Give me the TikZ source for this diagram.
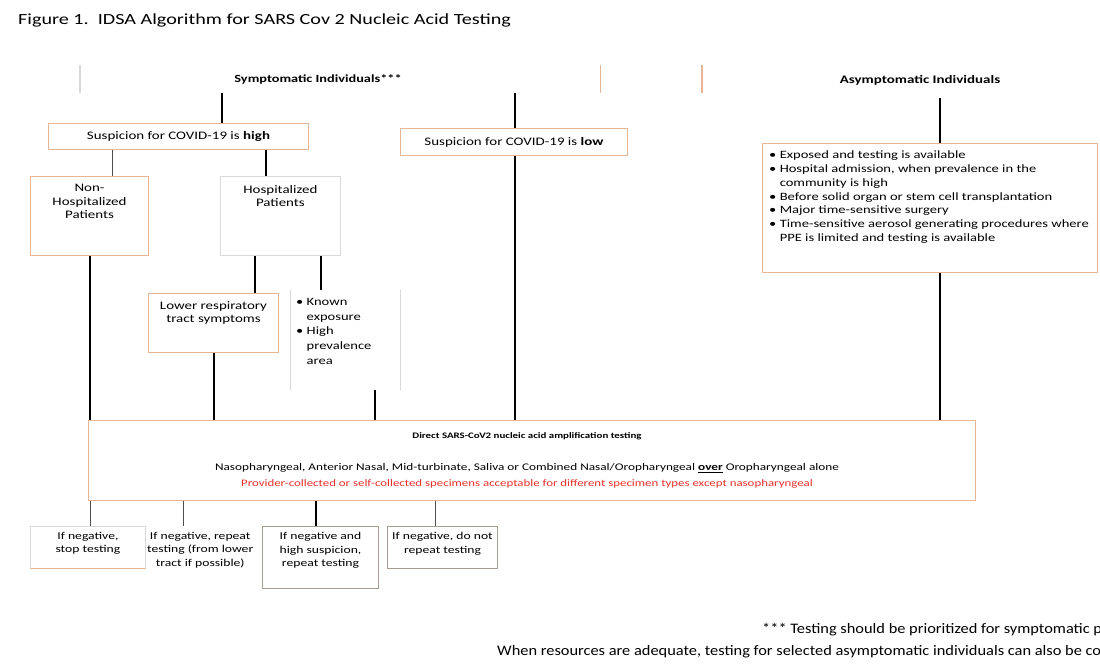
\documentclass[tikz,border=0pt]{standalone}
\usepackage{fontspec}
\setmainfont{Carlito}[FakeStretch=1.3]
\newfontfamily\footfont{Carlito}[FakeStretch=1.13]
\definecolor{boxc}{HTML}{E6B595}
\definecolor{faint}{HTML}{D9D9D9}
\definecolor{greyb}{HTML}{A89C90}
\definecolor{redt}{HTML}{E8302A}
\begin{document}
\begin{tikzpicture}[x=1pt,y=-1pt,
  box/.style={draw=boxc, line width=1pt, fill=white, inner sep=0pt, anchor=north west},
  fbox/.style={draw=faint, line width=0.8pt, fill=white, inner sep=0pt, anchor=north west},
  gbox/.style={draw=greyb, line width=1pt, fill=white, inner sep=0pt, anchor=north west},
  txt/.style={font=\fontsize{11.5}{13.5}\selectfont, align=center, inner sep=0pt, anchor=north},
  btxt/.style={font=\fontsize{10.5}{13.5}\selectfont, align=center, inner sep=0pt, anchor=north},
  ltxt/.style={font=\fontsize{11.2}{13.7}\selectfont, align=left, inner sep=0pt, anchor=north west},
  conn/.style={line width=1.8pt, black},
  thinconn/.style={line width=1pt, black!70}]
\useasboundingbox (0,0) rectangle (1100,667);
\fill[white] (0,0) rectangle (1100,667);
\begin{scope}
\clip (0,0) rectangle (1100,667);

% title
\node[anchor=west, inner sep=0pt, font=\fontsize{15.5}{18}\selectfont] (title) at (18,20)
  {Figure 1.\ \ IDSA Algorithm for SARS Cov 2 Nucleic Acid Testing};

% headers
\node[inner sep=0pt, minimum width=520pt, minimum height=28pt, anchor=north west] (sym) at (80,65) {};
\node[txt, anchor=center, font=\bfseries\fontsize{11}{13}\selectfont] (symt) at (318,79) {Symptomatic Individuals***};
\draw[faint, line width=1.2pt] (sym.north west) -- (sym.south west);
\draw[boxc, line width=1.2pt] (sym.north east) -- (sym.south east);
\node[inner sep=0pt, minimum width=398pt, minimum height=28pt, anchor=north west] (asym) at (702,65) {};
\node[txt, anchor=center, font=\bfseries\fontsize{11.5}{13}\selectfont] (asymt) at (920,80) {Asymptomatic Individuals};
\draw[boxc, line width=1.2pt] (asym.north west) -- (asym.south west);

% suspicion boxes
\node[box, minimum width=260pt, minimum height=26pt] (high) at (48,123) {};
\node[txt, anchor=center] (hight) at (high.center) {Suspicion for COVID-19 is \textbf{high}};
\node[box, minimum width=227pt, minimum height=27pt] (low) at (400,128) {};
\node[txt, anchor=center] (lowt) at (low.center) {Suspicion for COVID-19 is \textbf{low}};

% patients
\node[box, minimum width=118pt, minimum height=79pt] (nonhosp) at (30,176) {};
\node[txt] (nonhospt) at ([yshift=-8pt]nonhosp.north) {Non-\\Hospitalized\\Patients};
\node[fbox, minimum width=120pt, minimum height=79pt] (hosp) at (220,176) {};
\node[txt] (hospt) at ([yshift=-9pt]hosp.north) {Hospitalized\\Patients};

\node[box, minimum width=130pt, minimum height=59pt] (lowresp) at (148,293) {};
\node[txt] (lowrespt) at ([yshift=-8pt]lowresp.north) {Lower respiratory\\tract symptoms};

\node[inner sep=0pt, minimum width=110pt, minimum height=100pt, anchor=north west] (bul) at (290,290) {};
\draw[faint, line width=1pt] (bul.north west) -- (bul.south west);
\draw[faint, line width=1pt] (bul.north east) -- (bul.south east);
\node[ltxt, font=\fontsize{11.2}{14.7}\selectfont] (bult) at (296,298)
  {• Known\\\hphantom{• }exposure\\• High\\\hphantom{• }prevalence\\\hphantom{• }area};

% asymptomatic criteria
\node[box, minimum width=335pt, minimum height=129pt] (rbox) at (762,143) {};
\node[ltxt] (rboxt) at (769,151)
  {• Exposed and testing is available\\
   • Hospital admission, when prevalence in the\\
   \hphantom{• }community is high\\
   • Before solid organ or stem cell transplantation\\
   • Major time-sensitive surgery\\
   • Time-sensitive aerosol generating procedures where\\
   \hphantom{• }PPE is limited and testing is available};

% direct testing
\node[box, minimum width=887pt, minimum height=80pt] (direct) at (88,420) {};
\node[txt, anchor=center, font=\bfseries\fontsize{8.4}{11}\selectfont] (dir1) at (527,436)
  {Direct SARS-CoV2 nucleic acid amplification testing};
\node[txt, anchor=center, font=\fontsize{10.2}{12}\selectfont] (dir2) at (527,468)
  {Nasopharyngeal, Anterior Nasal, Mid-turbinate, Saliva or Combined Nasal/Oropharyngeal \textbf{\underline{over}} Oropharyngeal alone};
\node[txt, anchor=center, text=redt, font=\fontsize{9.9}{12}\selectfont] (dir3) at (527,484)
  {Provider-collected or self-collected specimens acceptable for different specimen types except nasopharyngeal};

% outcomes
\node[fbox, minimum width=115pt, minimum height=42pt] (b1) at (30,526) {};
\draw[boxc, line width=1.2pt] (b1.south west) -- (b1.south east);
\node[btxt] (b1t) at ([yshift=-6pt]b1.north) {If negative,\\stop testing};
\node[inner sep=0pt, minimum width=100pt, minimum height=55pt, anchor=north west] (b2) at (150,526) {};
\node[btxt] (b2t) at ([yshift=-6pt]b2.north) {If negative, repeat\\testing (from lower\\tract if possible)};
\node[gbox, minimum width=116pt, minimum height=62pt] (b3) at (262,526) {};
\node[btxt] (b3t) at ([yshift=-6pt]b3.north) {If negative and\\high suspicion,\\repeat testing};
\node[gbox, minimum width=110pt, minimum height=42pt] (b4) at (387,526) {};
\node[btxt] (b4t) at ([yshift=-6pt]b4.north) {If negative, do not\\repeat testing};

% footnote
\node[anchor=west, inner sep=0pt, font=\footfont\fontsize{14.5}{16}\selectfont] (foot1) at (762,630)
  {*** Testing should be prioritized for symptomatic patients.};
\node[anchor=west, inner sep=0pt, font=\footfont\fontsize{14.5}{16}\selectfont] (foot2) at (497,652)
  {When resources are adequate, testing for selected asymptomatic individuals can also be considered.};

% x positions of connectors
\coordinate (xa) at (222,0);
\coordinate (xb) at (515,0);
\coordinate (xc) at (940,0);
\coordinate (xd) at (112,0);
\coordinate (xe) at (266,0);
\coordinate (xf) at (90,0);
\coordinate (xg) at (255,0);
\coordinate (xh) at (321,0);
\coordinate (xi) at (214,0);
\coordinate (xj) at (375,0);
\coordinate (xk) at (90,0);
\coordinate (xl) at (183,0);
\coordinate (xm) at (316,0);
\coordinate (xn) at (435,0);

% connectors
\draw[conn] (xa |- sym.south) -- (xa |- high.north);
\draw[conn] (xb |- sym.south) -- (xb |- low.north);
\draw[conn] (xb |- low.south) -- (xb |- direct.north);
\draw[conn] ([yshift=-5pt]xc |- asym.south) -- (xc |- rbox.north);
\draw[conn] (xc |- rbox.south) -- (xc |- direct.north);
\draw[thinconn] (xd |- high.south) -- (xd |- nonhosp.north);
\draw[conn] (xe |- high.south) -- (xe |- hosp.north);
\draw[conn] (xf |- nonhosp.south) -- (xf |- direct.north);
\draw[conn] (xg |- hosp.south) -- (xg |- lowresp.north);
\draw[conn] (xh |- hosp.south) -- (xh |- bul.north);
\draw[conn] (xi |- lowresp.south) -- (xi |- direct.north);
\draw[conn] (xj |- bul.south) -- (xj |- direct.north);
\draw[thinconn] (xk |- direct.south) -- (xk |- b1.north);
\draw[thinconn] (xl |- direct.south) -- (xl |- b2.north);
\draw[conn] (xm |- direct.south) -- (xm |- b3.north);
\draw[thinconn] (xn |- direct.south) -- (xn |- b4.north);
\end{scope}
\end{tikzpicture}
\end{document}
